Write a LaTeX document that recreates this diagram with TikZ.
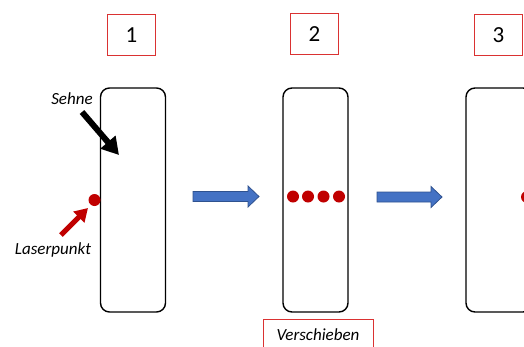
\documentclass[tikz,border=0pt]{standalone}
\usepackage{fontspec}
\setmainfont{Carlito}
\usetikzlibrary{arrows.meta}
\definecolor{boxred}{RGB}{218,50,50}
\definecolor{dotred}{RGB}{192,0,0}
\definecolor{arrfill}{RGB}{68,114,196}
\definecolor{arrline}{RGB}{47,82,143}
\newcommand{\blockarr}[3]{%
  \filldraw[bluearr] (#1,#3-5) -- (#2-11,#3-5) -- (#2-11,#3-10.5) -- (#2,#3)
    -- (#2-11,#3+10.5) -- (#2-11,#3+5) -- (#1,#3+5) -- cycle;}
\begin{document}
\begin{tikzpicture}[x=1pt,y=-1pt,
  numbox/.style={draw=boxred, line width=1.1pt, minimum width=48pt, minimum height=41pt,
    inner sep=0pt, font=\fontsize{23}{27}\selectfont},
  strip/.style={draw=black, line width=1.4pt, rounded corners=9pt, minimum width=65pt,
    minimum height=224pt, inner sep=0pt},
  laser/.style={circle, fill=dotred, minimum size=12pt, inner sep=0pt},
  lbl/.style={font=\fontsize{17}{20}\selectfont\itshape, inner sep=0pt},
  bluearr/.style={fill=arrfill, draw=arrline, line width=0.8pt, line join=miter}
]
\useasboundingbox (0,0) rectangle (524,346);
\clip (0,0) rectangle (524,346);

% number boxes
\node[numbox] (n1) at (131.5,35) {1};
\node[numbox] (n2) at (314.5,34) {2};
\node[numbox] (n3) at (498.5,35) {3};

% strips
\node[strip] (s1) at (133,200) {};
\node[strip] (s2) at (315.5,200) {};
\node[strip, minimum width=66pt] (s3) at (499,200) {};

% laser dots
\node[laser] (d1) at (94.5,200) {};
\node[laser] (d2a) at (293,196.5) {};
\node[laser] (d2b) at (308,196.5) {};
\node[laser] (d2c) at (323.5,196.5) {};
\node[laser] (d2d) at (339,196.5) {};
\node[laser] (d3) at (527,197) {};

% labels
\node[lbl] (sehne) at (72,99) {Sehne};
\node[lbl] (laserpunkt) at (53,250) {Laserpunkt};
\node[draw=boxred, line width=1.1pt, minimum width=110pt, minimum height=34pt,
  inner sep=0pt] (versch) at (318.5,336.5) {};
\node[lbl] (verschtxt) at (318,335) {Verschieben};

% pointer arrows
\coordinate (sehneA) at (82,112);
\coordinate (sehneB) at (119,155);
\draw[line width=6pt, -{Triangle[length=17pt,width=19pt]}] (sehneA) -- (sehneB);
\coordinate (laserA) at (61,235);
\coordinate (laserB) at (88,208);
\draw[dotred, line width=5pt, -{Triangle[length=13pt,width=15pt]}] (laserA) -- (laserB);

% blue block arrows
\blockarr{193}{259}{196.5}
\blockarr{377}{442}{197}
\end{tikzpicture}
\end{document}
